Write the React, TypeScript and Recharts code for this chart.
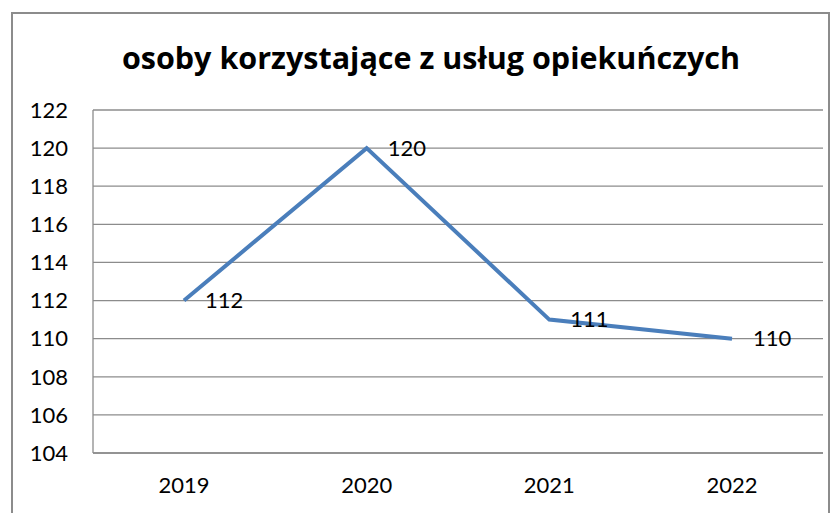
import { LineChart, Line, XAxis, YAxis, CartesianGrid, LabelList } from "recharts";

const years = ["2019", "2020", "2021", "2022"];
const persons = [112, 120, 111, 110];
const yTicks = [104, 106, 108, 110, 112, 114, 116, 118, 120, 122];

const data = years.map((year, i) => ({ year, value: persons[i] }));

const font = "Lato, 'Noto Sans', sans-serif";

export default function App() {
  return (
    <div style={{ position: "absolute", left: 0, top: 0, width: 839, height: 513, background: "#fff", overflow: "hidden", fontFamily: font }}>
      <div
        style={{
          position: "absolute",
          left: 11,
          top: 12,
          width: 819,
          height: 520,
          border: "2px solid #8c8c8c",
          boxSizing: "border-box",
        }}
      />
      <div
        style={{
          position: "absolute",
          left: 0,
          top: 35,
          width: 862,
          textAlign: "center",
          fontSize: 30.5,
          fontWeight: 700,
          fontFamily: "'Open Sans', sans-serif",
          color: "#000",
          lineHeight: "44px",
        }}
      >
        osoby korzystające z usług opiekuńczych
      </div>
      <div style={{ position: "absolute", left: 0, top: 0 }}>
        <LineChart width={839} height={513} data={data} margin={{ top: 110, right: 16, bottom: 20, left: 0 }}>
          <CartesianGrid vertical={false} stroke="#8c8c8c" strokeWidth={1.3} />
          <XAxis
            dataKey="year"
            height={40}
            padding={{ left: 91, right: 91 }}
            tickSize={0}
            tickMargin={24}
            axisLine={{ stroke: "#8c8c8c", strokeWidth: 1.3 }}
            tick={{ fill: "#000", fontSize: 22, fontFamily: font }}
          />
          <YAxis
            width={93}
            domain={[104, 122]}
            ticks={yTicks}
            interval={0}
            tickSize={0}
            tickMargin={25}
            axisLine={{ stroke: "#8c8c8c", strokeWidth: 1.3 }}
            tick={{ fill: "#000", fontSize: 22, fontFamily: font }}
          />
          <Line
            dataKey="value"
            stroke="#4a7ebb"
            strokeWidth={4}
            dot={false}
            isAnimationActive={false}
          >
            <LabelList dataKey="value" position="right" offset={21} fill="#000" fontSize={22} fontFamily={font} />
          </Line>
        </LineChart>
      </div>
    </div>
  );
}
